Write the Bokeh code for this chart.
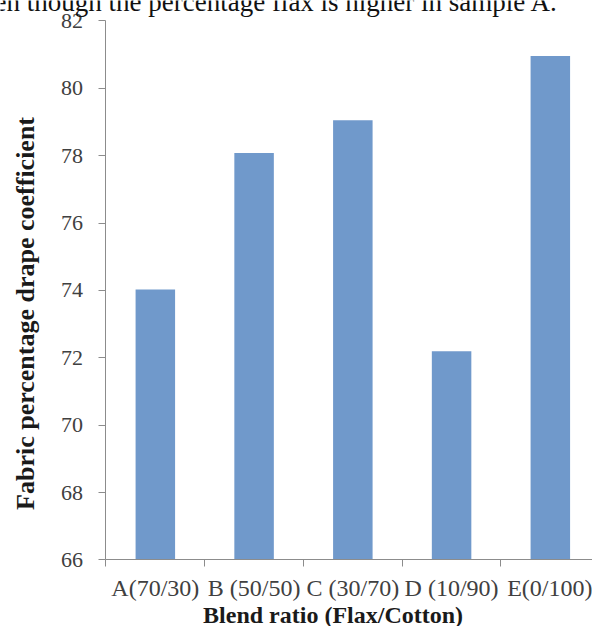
from bokeh.plotting import figure
from bokeh.models import FixedTicker, Label, Range1d
from bokeh.embed import file_html
from bokeh.resources import INLINE

# Drape coefficient by flax/cotton blend ratio
categories = ["A(70/30)", "B (50/50)", "C (30/70)", "D (10/90)", "E(0/100)"]
drape = [74.03, 78.08, 79.05, 72.2, 80.96]
y_ticks = [66, 68, 70, 72, 74, 76, 78, 80, 82]

positions = list(range(1, len(categories) + 1))
serif = "Liberation Serif"
y_min, y_max = y_ticks[0], y_ticks[-1]
x_lo, x_hi = -0.568, 5.427

# the frame fills the whole canvas; the axes sit at fixed locations inside it
p = figure(width=592, height=626, output_backend="svg", toolbar_location=None,
           x_range=Range1d(x_lo, x_hi), y_range=Range1d(64.026, 82.608),
           min_border=0)
p.outline_line_color = None
p.grid.visible = False
p.background_fill_color = "white"
p.border_fill_color = "white"

p.vbar(x=positions, top=drape, bottom=y_min, width=0.4, fill_color="#7099CB", line_color=None)

# y axis
ya = p.yaxis[0]
ya.fixed_location = 0.5
ya.bounds = (y_min, y_max)
ya.ticker = FixedTicker(ticks=y_ticks)
ya.axis_line_color = "#8C8C8C"
ya.major_tick_line_color = "#8C8C8C"
ya.major_tick_out = 7
ya.major_tick_in = 0
ya.minor_tick_line_color = None
ya.major_label_text_font = serif
ya.major_label_text_font_size = "22px"
ya.major_label_text_color = "#404040"
ya.major_label_standoff = 16

# x axis: labels at category centres, tick marks at category boundaries
xa = p.xaxis[0]
xa.fixed_location = y_min
xa.bounds = (0.5, x_hi)
xa.ticker = FixedTicker(ticks=positions, minor_ticks=[i + 0.5 for i in range(0, len(categories) + 1)])
xa.major_label_overrides = {pos: name for pos, name in zip(positions, categories)}
xa.axis_line_color = "#8C8C8C"
xa.major_tick_line_color = None
xa.minor_tick_line_color = "#8C8C8C"
xa.minor_tick_out = 7
xa.minor_tick_in = 0
xa.major_label_text_font = serif
xa.major_label_text_font_size = "24px"
xa.major_label_text_color = "#404040"
xa.major_label_standoff = 8

# axis titles
p.add_layout(Label(x=2.80, y=64.354, text="Blend ratio (Flax/Cotton)", text_font=serif,
                   text_font_size="24px", text_font_style="bold", text_color="#1a1a1a",
                   text_align="center", text_baseline="alphabetic"))
p.add_layout(Label(x=-0.315, y=73.318, text="Fabric percentage drape coefficient", text_font=serif,
                   text_font_size="26px", text_font_style="bold", text_color="#1a1a1a",
                   angle=1.5708, text_align="center", text_baseline="middle"))

# running text line above the chart
p.add_layout(Label(x=x_lo, y=82.578, text="en though the percentage flax is higher in sample A.",
                   text_font=serif, text_font_size="27px", text_color="#111111",
                   text_align="left", text_baseline="alphabetic", x_offset=-6))

open("out.html", "w").write(file_html(p, INLINE))
